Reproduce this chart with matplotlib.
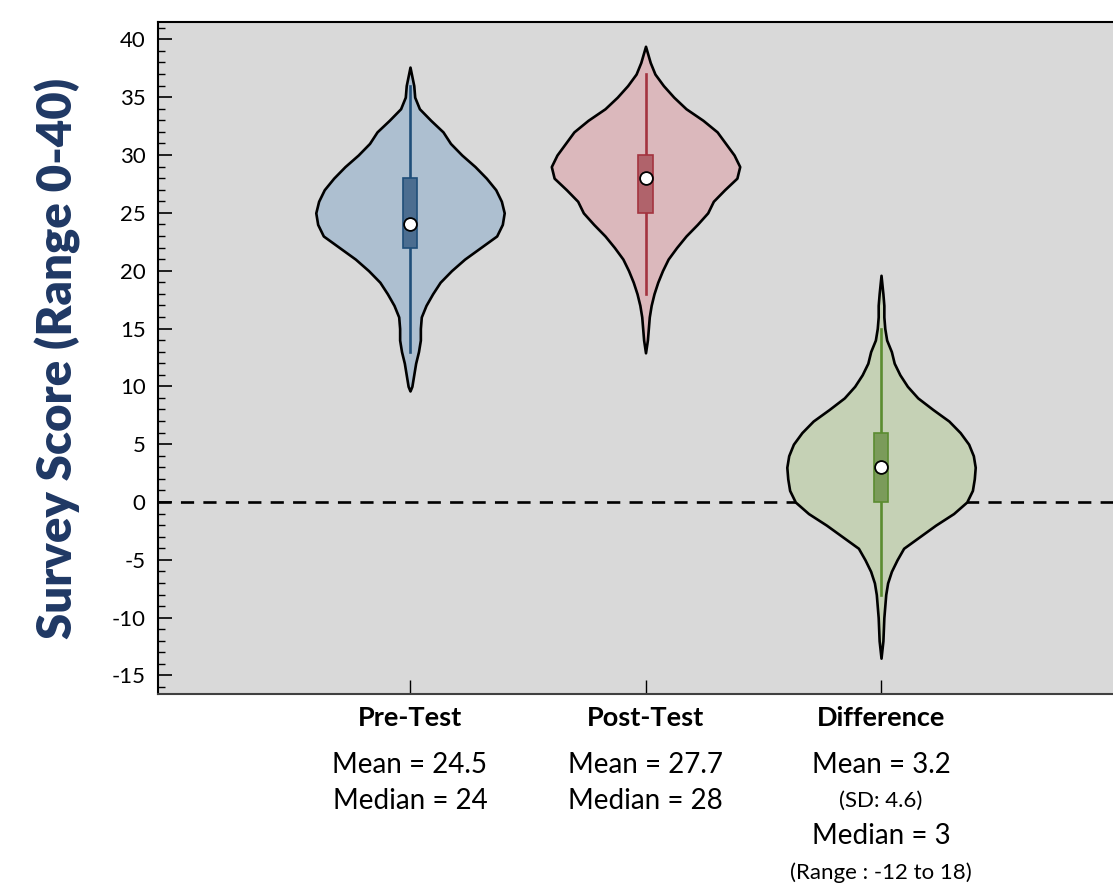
import matplotlib
matplotlib.use('Agg')
import matplotlib.pyplot as plt
import matplotlib.transforms as mtransforms
from matplotlib.ticker import MultipleLocator
import numpy as np

plt.rcParams['font.family'] = ['Lato', 'DejaVu Sans']
plt.rcParams['axes.unicode_minus'] = False

# ---- data ----
categories = ['Pre-Test', 'Post-Test', 'Difference']

# violin outlines: score levels and relative half-width (1 = widest)
pre_levels = [37.6, 36, 35, 34, 33, 32, 31, 30, 29, 28, 27, 26, 25, 24, 23, 22, 21,
              20, 19, 18, 17, 16, 15, 14, 13, 12, 11, 10, 9.6]
pre_width = [0, .04, .05, .10, .22, .35, .43, .55, .69, .81, .91, .97, 1.0, .98, .92,
             .75, .58, .44, .32, .24, .17, .12, .11, .11, .09, .06, .04, .02, 0]

post_levels = [39.4, 38, 37, 36, 35, 34, 33, 32, 31, 30, 29, 28, 27, 26, 25, 24, 23,
               22, 21, 20, 19, 18, 17, 16, 15, 14, 12.9]
post_width = [0, .05, .10, .19, .30, .43, .61, .76, .85, .94, 1.0, .97, .84, .72, .66,
              .55, .43, .33, .24, .18, .13, .09, .06, .04, .03, .02, 0]

diff_levels = [19.6, 18, 17, 16, 15, 14, 13, 12, 11, 10, 9, 8, 7, 6, 5, 4, 3, 2, 1, 0,
               -1, -2, -3, -4, -5, -6, -7, -8, -10, -12, -13.5]
diff_width = [0, .02, .03, .03, .04, .06, .11, .14, .20, .28, .39, .55, .72, .84, .93,
              .98, 1.0, .99, .97, .91, .77, .58, .41, .24, .17, .11, .07, .05, .03, .02, 0]

# box stats: q1, q3, median, whisker low, whisker high
q1 = [22, 25, 0]
q3 = [28, 30, 6]
medians = [24, 28, 3]
whisk_lo = [13, 18, -8]
whisk_hi = [36, 37, 15]

stat_lines = [
    ['Mean = 24.5', 'Median = 24'],
    ['Mean = 27.7', 'Median = 28'],
    ['Mean = 3.2', '(SD: 4.6)', 'Median = 3', '(Range : -12 to 18)'],
]

fill_colors = ['#adbfd0', '#dbb8bc', '#c5d1b5']
box_colors = ['#4b6d90', '#b0636b', '#7b9b5a']
line_colors = ['#1f4e79', '#a3333f', '#5b8c30']

fig = plt.figure(figsize=(11.13, 8.88), dpi=100)
ax = fig.add_axes([158 / 1113, 1 - 694 / 888, 1 - 158 / 1113, (694 - 22) / 888])
ax.set_facecolor('#d9d9d9')

max_half = 0.40
profiles = [(pre_levels, pre_width), (post_levels, post_width), (diff_levels, diff_width)]
for i, (lv, wd) in enumerate(profiles):
    lv = np.array(lv)
    wd = np.array(wd) * max_half
    ax.fill_betweenx(lv, i - wd, i + wd, facecolor=fill_colors[i], edgecolor='black',
                     linewidth=1.9, joinstyle='round', zorder=2)
    ax.plot([i, i], [whisk_lo[i], whisk_hi[i]], color=line_colors[i], lw=1.9, zorder=3)
    ax.bar(i, q3[i] - q1[i], bottom=q1[i], width=0.06, color=box_colors[i],
           edgecolor=line_colors[i], linewidth=1.2, zorder=4)
    ax.scatter([i], [medians[i]], s=85, color='white', edgecolor='black', linewidth=1.3,
               zorder=5)

ax.axhline(0, color='black', linestyle=(0, (5, 3.5)), lw=1.9, zorder=1)

ax.set_xlim(-1.07, 2.985)
ax.set_ylim(-16.6, 41.5)
ax.yaxis.set_major_locator(MultipleLocator(5))
ax.yaxis.set_minor_locator(MultipleLocator(1))
ax.tick_params(axis='y', which='major', direction='in', length=10, width=1.2,
               labelsize=16, pad=9)
ax.tick_params(axis='y', which='minor', direction='in', length=5, width=1)
ax.set_xticks(range(len(categories)))
ax.set_xticklabels([])
ax.tick_params(axis='x', direction='in', length=10, width=1)
ax.spines['right'].set_visible(False)
ax.spines['top'].set_linewidth(1.5)
ax.spines['left'].set_linewidth(1.5)
ax.spines['bottom'].set_color('#404040')
ax.spines['bottom'].set_linewidth(1.5)

ax.set_ylabel('Survey Score (Range 0-40)', fontsize=34, fontweight='heavy',
              color='#1f3864', labelpad=22)

# category names and summary text under the axis
trans = mtransforms.blended_transform_factory(ax.transData, fig.transFigure)
line_y = [765, 801, 836, 873]
for i, name in enumerate(categories):
    fig.text(i, 1 - 718 / 888, name, transform=trans, ha='center', va='center',
             fontsize=19.5, fontweight='bold')
    for j, txt in enumerate(stat_lines[i]):
        small = txt.startswith('(')
        fig.text(i, 1 - line_y[j] / 888, txt, transform=trans, ha='center', va='center',
                 fontsize=16 if small else 20)

fig.savefig('out.png', dpi=100)
